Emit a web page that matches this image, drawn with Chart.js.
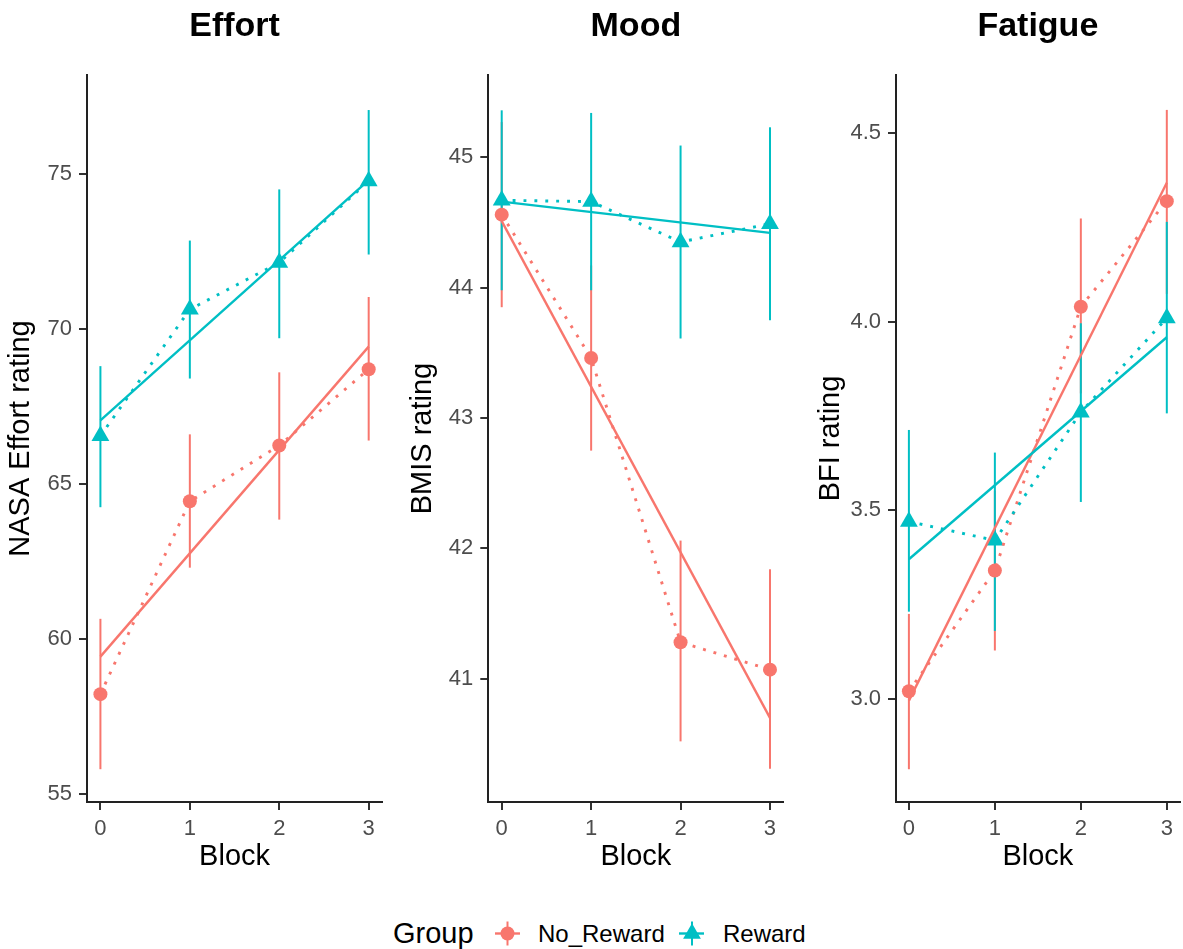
<!DOCTYPE html>
<html><head><meta charset="utf-8">
<script src="https://cdn.jsdelivr.net/npm/chart.js@4.4.1/dist/chart.umd.min.js"></script>
<style>
html,body{margin:0;padding:0;background:#fff;overflow:hidden;width:1183px;height:949px;position:relative;}
canvas{position:absolute;top:0;}
.lg{position:absolute;font-family:"Liberation Sans",Arial,sans-serif;color:#000;white-space:nowrap;}
</style></head><body>
<canvas id="c1" width="395" height="900" style="left:0px"></canvas>
<canvas id="c2" width="400" height="900" style="left:395px"></canvas>
<canvas id="c3" width="390" height="900" style="left:800px"></canvas>
<div class="lg" style="left:393px;top:915px;font-size:29px;line-height:36px">Group</div>
<svg class="lg" style="left:493px;top:920px" width="30" height="27">
  <line x1="2" y1="13.5" x2="27" y2="13.5" stroke="#F8766D" stroke-width="2.4"/>
  <line x1="14.5" y1="1.5" x2="14.5" y2="25.5" stroke="#F8766D" stroke-width="2"/>
  <circle cx="14.5" cy="13.5" r="7" fill="#F8766D"/>
</svg>
<div class="lg" style="left:538px;top:918.6px;font-size:24px;line-height:30px">No_Reward</div>
<svg class="lg" style="left:677px;top:920px" width="30" height="27">
  <line x1="2" y1="13.5" x2="27" y2="13.5" stroke="#00BFC4" stroke-width="2.4"/>
  <line x1="15" y1="1.5" x2="15" y2="25.5" stroke="#00BFC4" stroke-width="2"/>
  <polygon points="15,3.2 23.9,18.65 6.1,18.65" fill="#00BFC4"/>
</svg>
<div class="lg" style="left:723px;top:918.6px;font-size:24px;line-height:30px">Reward</div>
<script>
// ---------- data ----------
const blocks = [0, 1, 2, 3];
const blockTickLabels = ['0', '1', '2', '3'];
const fitBlocks = [0, 3];

// Effort (NASA Effort rating)
const effortTicks = [55, 60, 65, 70, 75];
const effortTickLabels = ['55', '60', '65', '70', '75'];
const effortNoRewardMean = [58.22, 64.44, 66.24, 68.70];
const effortNoRewardLo   = [55.80, 62.30, 63.85, 66.40];
const effortNoRewardHi   = [60.65, 66.60, 68.60, 71.03];
const effortRewardMean   = [66.55, 70.63, 72.14, 74.77];
const effortRewardLo     = [64.25, 68.40, 69.70, 72.40];
const effortRewardHi     = [68.80, 72.85, 74.50, 77.06];
const effortNoRewardFit  = [59.43, 69.43];
const effortRewardFit    = [67.05, 74.80];

// Mood (BMIS rating)
const moodTicks = [41, 42, 43, 44, 45];
const moodTickLabels = ['41', '42', '43', '44', '45'];
const moodNoRewardMean = [44.56, 43.46, 41.28, 41.07];
const moodNoRewardLo   = [43.85, 42.75, 40.52, 40.31];
const moodNoRewardHi   = [45.27, 44.17, 42.06, 41.84];
const moodRewardMean   = [44.67, 44.66, 44.35, 44.49];
const moodRewardLo     = [43.98, 43.98, 43.61, 43.75];
const moodRewardHi     = [45.36, 45.34, 45.09, 45.23];
const moodNoRewardFit  = [44.51, 40.70];
const moodRewardFit    = [44.66, 44.42];

// Fatigue (BFI rating)
const fatigueTicks = [3.0, 3.5, 4.0, 4.5];
const fatigueTickLabels = ['3.0', '3.5', '4.0', '4.5'];
const fatigueNoRewardMean = [3.02, 3.34, 4.04, 4.32];
const fatigueNoRewardLo   = [2.813, 3.128, 3.810, 4.074];
const fatigueNoRewardHi   = [3.225, 3.552, 4.274, 4.562];
const fatigueRewardMean   = [3.47, 3.42, 3.76, 4.01];
const fatigueRewardLo     = [3.231, 3.180, 3.522, 3.757];
const fatigueRewardHi     = [3.713, 3.653, 3.996, 4.265];
const fatigueNoRewardFit  = [2.995, 4.369];
const fatigueRewardFit    = [3.370, 3.959];

// ---------- styling ----------
const RED = '#F8766D', TEAL = '#00BFC4';
const FONT = "'Liberation Sans', Arial, sans-serif";
Chart.defaults.font.family = FONT;

function pts(xs, ys) { return xs.map((x, i) => ({ x: x, y: ys[i] })); }

function buildDatasets(g) {
  const ds = [];
  const groups = [
    { c: RED, mean: g.nrMean, lo: g.nrLo, hi: g.nrHi, fit: g.nrFit, style: 'circle', r: 7 },
    { c: TEAL, mean: g.rMean, lo: g.rLo, hi: g.rHi, fit: g.rFit, style: 'triangle', r: 10.3 }
  ];
  // error bars
  groups.forEach(gr => {
    blocks.forEach((b, i) => {
      ds.push({ data: [{ x: b, y: gr.lo[i] }, { x: b, y: gr.hi[i] }], showLine: true,
        borderColor: gr.c, borderWidth: 2, pointRadius: 0, borderCapStyle: 'butt' });
    });
  });
  // points
  groups.forEach(gr => {
    ds.push({ data: pts(blocks, gr.mean), showLine: false, pointStyle: gr.style,
      pointRadius: gr.r, pointBackgroundColor: gr.c, pointBorderWidth: 0, borderColor: gr.c });
  });
  // dotted mean lines
  groups.forEach(gr => {
    ds.push({ data: pts(blocks, gr.mean), showLine: true, borderColor: gr.c, borderWidth: 2.9,
      borderDash: [2.9, 8], borderCapStyle: 'butt', pointRadius: 0 });
  });
  // fitted lines
  groups.forEach(gr => {
    ds.push({ data: pts(fitBlocks, gr.fit), showLine: true, borderColor: gr.c, borderWidth: 2.4,
      pointRadius: 0 });
  });
  ds.forEach((d, i) => { d.order = -i; d.clip = false; });
  return ds;
}

function makePanel(id, p) {
  new Chart(document.getElementById(id), {
    type: 'scatter',
    data: { datasets: buildDatasets(p) },
    options: {
      responsive: false, animation: false, events: [],
      layout: { padding: { left: 0, right: p.padRight, top: 0, bottom: 18 } },
      plugins: {
        legend: { display: false }, tooltip: { enabled: false },
        title: { display: true, text: p.title, fullSize: false, color: '#000',
          font: { family: FONT, size: 34, weight: 'bold' }, padding: { top: 6, bottom: 28.2 } }
      },
      scales: {
        x: {
          type: 'linear', min: -0.15, max: 3.15,
          afterBuildTicks: s => { s.ticks = blocks.map(v => ({ value: v })); },
          afterFit: s => { s.height = 80; },
          ticks: { autoSkip: false, color: '#4D4D4D', font: { size: 22 }, padding: 6,
            callback: (v, i) => blockTickLabels[i] },
          grid: { drawOnChartArea: false, tickLength: 8, tickWidth: 2, lineWidth: 2, color: '#333', tickColor: '#333' },
          border: { display: true, color: '#222', width: 2 },
          title: { display: true, text: 'Block', color: '#000', font: { size: 29 }, padding: { top: 0, bottom: 8 } }
        },
        y: {
          type: 'linear', min: p.yMin, max: p.yMax,
          afterBuildTicks: s => { s.ticks = p.ticks.map(v => ({ value: v })); },
          afterFit: s => { s.width = p.yWidth; },
          ticks: { autoSkip: false, color: '#4D4D4D', font: { size: 22 }, padding: 7,
            callback: (v, i) => p.tickLabels[i] },
          grid: { drawOnChartArea: false, tickLength: 8, tickWidth: 2, lineWidth: 2, color: '#333', tickColor: '#333' },
          border: { display: true, color: '#222', width: 2 },
          title: { display: true, text: p.yTitle, color: '#000', font: { size: 29 }, padding: { top: p.yTitlePad, bottom: 0 } }
        }
      }
    }
  });
}

makePanel('c1', { title: 'Effort', yTitle: 'NASA Effort rating', yMin: 54.742, yMax: 78.19,
  ticks: effortTicks, tickLabels: effortTickLabels, yWidth: 87, padRight: 12.9, yTitlePad: 4,
  nrMean: effortNoRewardMean, nrLo: effortNoRewardLo, nrHi: effortNoRewardHi, nrFit: effortNoRewardFit,
  rMean: effortRewardMean, rLo: effortRewardLo, rHi: effortRewardHi, rFit: effortRewardFit });

makePanel('c2', { title: 'Mood', yTitle: 'BMIS rating', yMin: 40.055, yMax: 45.631,
  ticks: moodTicks, tickLabels: moodTickLabels, yWidth: 93.3, padRight: 11.6, yTitlePad: 10.6,
  nrMean: moodNoRewardMean, nrLo: moodNoRewardLo, nrHi: moodNoRewardHi, nrFit: moodNoRewardFit,
  rMean: moodRewardMean, rLo: moodRewardLo, rHi: moodRewardHi, rFit: moodRewardFit });

makePanel('c3', { title: 'Fatigue', yTitle: 'BFI rating', yMin: 2.7261, yMax: 4.6546,
  ticks: fatigueTicks, tickLabels: fatigueTickLabels, yWidth: 96, padRight: 5.2, yTitlePad: 14,
  nrMean: fatigueNoRewardMean, nrLo: fatigueNoRewardLo, nrHi: fatigueNoRewardHi, nrFit: fatigueNoRewardFit,
  rMean: fatigueRewardMean, rLo: fatigueRewardLo, rHi: fatigueRewardHi, rFit: fatigueRewardFit });
</script>
</body></html>
